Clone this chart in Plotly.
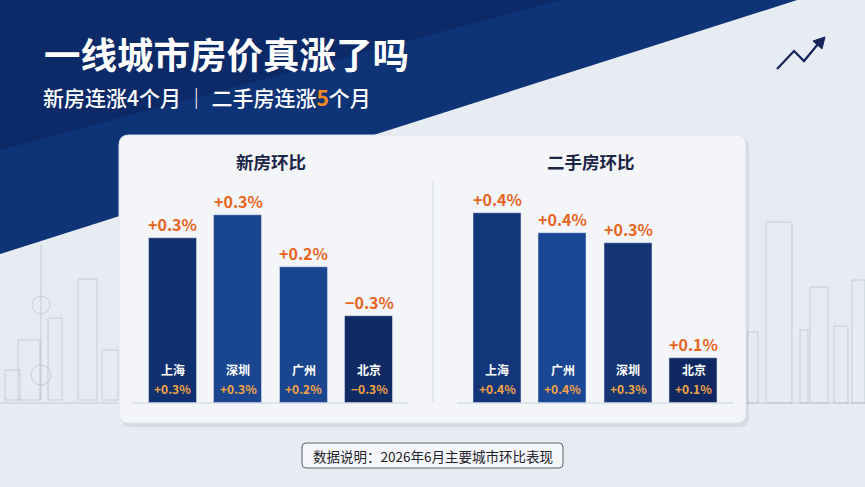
import plotly.graph_objects as go

W, H = 865, 487

# 新房环比 (left panel)
new_cities = ["上海", "深圳", "广州", "北京"]
new_labels = ["+0.3%", "+0.3%", "+0.2%", "−0.3%"]
new_heights = [165, 188, 136, 87]  # bar heights as drawn in the picture (index units)
new_colors = ["#11306f", "#1a4690", "#1a4690", "#102a64"]

# 二手房环比 (right panel)
used_cities = ["上海", "广州", "深圳", "北京"]
used_labels = ["+0.4%", "+0.4%", "+0.3%", "+0.1%"]
used_heights = [190, 170, 160, 45]
used_colors = ["#13357a", "#1a4793", "#133574", "#0f2862"]

title = "一线城市房价真涨了吗"
note = "数据说明：2026年6月主要城市环比表现"

FONT = "Noto Sans CJK SC"
ORANGE = "#e8631c"
ORANGE_IN = "#f4a444"
NAVY = "#1b2545"


def px(x):
    return x / W


def py(y):
    return 1 - y / H


def rounded_rect(x0, y0, x1, y1, r):
    # path in paper coords, corners rounded by r pixels
    rx, ry = r / W, r / H
    a, b, c, d = px(x0), py(y1), px(x1), py(y0)  # left, bottom, right, top
    return (f"M {a+rx},{b} L {c-rx},{b} Q {c},{b} {c},{b+ry} "
            f"L {c},{d-ry} Q {c},{d} {c-rx},{d} L {a+rx},{d} "
            f"Q {a},{d} {a},{d-ry} L {a},{b+ry} Q {a},{b} {a+rx},{b} Z")


fig = go.Figure()

fig.add_trace(go.Bar(x=new_cities, y=new_heights, marker_color=new_colors,
                     width=0.73, xaxis="x", yaxis="y", hoverinfo="skip"))
fig.add_trace(go.Bar(x=used_cities, y=used_heights, marker_color=used_colors,
                     width=0.73, xaxis="x2", yaxis="y2", hoverinfo="skip"))

shapes = []
# dark diagonal header
shapes.append(dict(type="path", xref="paper", yref="paper", layer="below",
                   path=f"M 0,1 L {px(797)},1 L 0,{py(254)} Z",
                   fillcolor="#0c2a68", line_width=0))
shapes.append(dict(type="path", xref="paper", yref="paper", layer="below",
                   path=f"M {px(560)},1 L {px(797)},1 L 0,{py(254)} L 0,{py(150)} Z",
                   fillcolor="rgba(20,70,150,0.35)", line_width=0))

# skyline decoration (faint outlines)
sky = "rgba(150,162,185,0.4)"
left_sky = [(18, 340, 40, 400), (48, 318, 62, 400), (78, 279, 97, 400),
            (102, 350, 118, 400), (5, 370, 20, 400)]
right_sky = [(747, 332, 758, 403), (766, 222, 792, 403), (800, 330, 808, 403),
             (810, 287, 828, 403), (834, 326, 848, 403), (852, 280, 865, 403)]
for x0, y0, x1, y1 in left_sky + right_sky:
    shapes.append(dict(type="rect", xref="paper", yref="paper", layer="below",
                       x0=px(x0), x1=px(x1), y0=py(y1), y1=py(y0),
                       line=dict(color=sky, width=1), fillcolor="rgba(0,0,0,0)"))
# oriental pearl tower
shapes.append(dict(type="line", xref="paper", yref="paper", layer="below",
                   x0=px(41), x1=px(41), y0=py(400), y1=py(245),
                   line=dict(color=sky, width=1)))
for cy, r in [(305, 9), (375, 10)]:
    shapes.append(dict(type="circle", xref="paper", yref="paper", layer="below",
                       x0=px(41 - r), x1=px(41 + r), y0=py(cy + r), y1=py(cy - r),
                       line=dict(color=sky, width=1)))
shapes.append(dict(type="line", xref="paper", yref="paper", layer="below",
                   x0=0, x1=px(120), y0=py(403), y1=py(403),
                   line=dict(color=sky, width=1)))
shapes.append(dict(type="line", xref="paper", yref="paper", layer="below",
                   x0=px(746), x1=1, y0=py(403), y1=py(403),
                   line=dict(color=sky, width=1)))

# card shadow + card
shapes.append(dict(type="path", xref="paper", yref="paper", layer="below",
                   path=rounded_rect(121, 138, 749, 427, 10),
                   fillcolor="rgba(60,80,120,0.10)", line_width=0))
shapes.append(dict(type="path", xref="paper", yref="paper", layer="below",
                   path=rounded_rect(119, 135, 746, 423, 10),
                   fillcolor="#f3f5f9", line=dict(color="#dfe4ec", width=1)))
# divider
shapes.append(dict(type="line", xref="paper", yref="paper", layer="below",
                   x0=px(433), x1=px(433), y0=py(402), y1=py(180),
                   line=dict(color="#d3d9e3", width=1)))
# baselines
for x0, x1 in [(132, 408), (457, 733)]:
    shapes.append(dict(type="line", xref="paper", yref="paper",
                       x0=px(x0), x1=px(x1), y0=py(403), y1=py(403),
                       line=dict(color="#c9d0dc", width=1)))
# footer box
shapes.append(dict(type="path", xref="paper", yref="paper",
                   path=rounded_rect(302, 443, 563, 468, 4),
                   fillcolor="#f4f6f9", line=dict(color="#5d6470", width=1)))
# trend arrow icon
shapes.append(dict(type="path", xref="paper", yref="paper",
                   path=f"M {px(777)},{py(69)} L {px(794)},{py(51)} L {px(804)},{py(61)} L {px(818)},{py(44)}",
                   line=dict(color="#14245a", width=2.2)))
shapes.append(dict(type="path", xref="paper", yref="paper",
                   path=f"M {px(825)},{py(37)} L {px(813)},{py(41)} L {px(822)},{py(49)} Z",
                   fillcolor="#14245a", line=dict(color="#14245a", width=1)))

annotations = []
annotations.append(dict(text=f"<b>{title}</b>", x=px(42), y=py(53), xref="paper", yref="paper",
                        xanchor="left", yanchor="middle", showarrow=False,
                        font=dict(family=FONT, size=36.5, color="white")))
annotations.append(dict(text="新房连涨4个月 ｜ 二手房连涨<b><span style='color:#f28a1e'>5</span></b>个月",
                        x=px(41), y=py(97), xref="paper", yref="paper",
                        xanchor="left", yanchor="middle", showarrow=False,
                        font=dict(family=FONT, size=21, color="white", weight=500)))
annotations.append(dict(text="<b>新房环比</b>", x=px(271), y=py(162), xref="paper", yref="paper",
                        xanchor="center", yanchor="middle", showarrow=False,
                        font=dict(family=FONT, size=17.5, color=NAVY)))
annotations.append(dict(text="<b>二手房环比</b>", x=px(591), y=py(162), xref="paper", yref="paper",
                        xanchor="center", yanchor="middle", showarrow=False,
                        font=dict(family=FONT, size=17.5, color=NAVY)))
annotations.append(dict(text=note, x=px(432.5), y=py(456), xref="paper", yref="paper",
                        xanchor="center", yanchor="middle", showarrow=False,
                        font=dict(family=FONT, size=13.5, color="#1e222a")))

for xa, ya, cities, labels, heights in [("x", "y", new_cities, new_labels, new_heights),
                                       ("x2", "y2", used_cities, used_labels, used_heights)]:
    for c, lab, h in zip(cities, labels, heights):
        annotations.append(dict(text=lab, x=c, y=h, xref=xa, yref=ya, yanchor="bottom",
                                yshift=0, showarrow=False,
                                font=dict(family=FONT, size=16, color=ORANGE, weight=600)))
        annotations.append(dict(text=f"<b>{c}</b>", x=c, y=0, xref=xa, yref=ya,
                                yanchor="middle", yshift=34, showarrow=False,
                                font=dict(family=FONT, size=12, color="white")))
        annotations.append(dict(text=lab, x=c, y=0, xref=xa, yref=ya,
                                yanchor="middle", yshift=15, showarrow=False,
                                font=dict(family=FONT, size=12, color=ORANGE_IN, weight=600)))

hidden = dict(showgrid=False, zeroline=False, showticklabels=False, showline=False, fixedrange=True)

fig.update_layout(
    width=W, height=H,
    margin=dict(l=0, r=0, t=0, b=0),
    paper_bgcolor="#e7ebf2",
    plot_bgcolor="rgba(0,0,0,0)",
    showlegend=False,
    bargap=0,
    shapes=shapes,
    annotations=annotations,
    xaxis=dict(domain=[px(139.75), px(401.75)], range=[-0.5, 3.5], **hidden),
    yaxis=dict(domain=[py(403), py(183)], range=[0, 220], **hidden),
    xaxis2=dict(domain=[px(464.25), px(726.25)], range=[-0.5, 3.5], anchor="y2", **hidden),
    yaxis2=dict(domain=[py(403), py(183)], range=[0, 220], anchor="x2", **hidden),
)

fig.write_html("out.html", config={"displayModeBar": False},
               post_script="document.body.style.margin='0';")
